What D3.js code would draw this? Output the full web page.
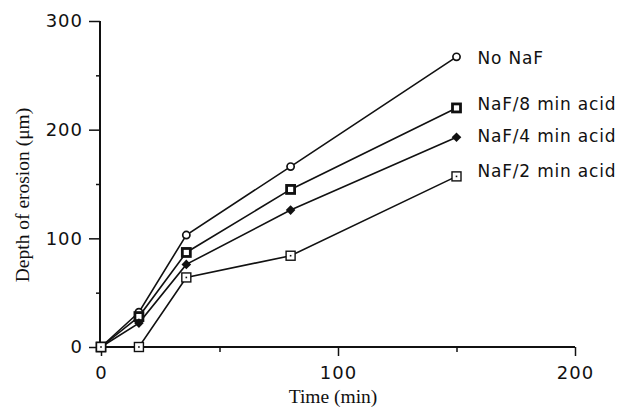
<!DOCTYPE html>
<html><head><meta charset="utf-8">
<script src="https://cdn.jsdelivr.net/npm/d3@7"></script>
<style>
body{margin:0;background:#fff;}
svg{display:block;}
.tick-label{font-family:"DejaVu Sans",sans-serif;font-size:18px;letter-spacing:1px;fill:#111;}
.legend{font-family:"DejaVu Sans",sans-serif;font-size:17px;letter-spacing:0.8px;fill:#111;}
.title{font-family:"Liberation Serif","DejaVu Serif",serif;font-size:19.5px;fill:#111;}
</style>
</head><body>
<svg id="chart" width="631" height="410"></svg>
<script>
const times = [0, 16, 36, 80, 150];
const seriesNames = ["No NaF", "NaF/8 min acid", "NaF/4 min acid", "NaF/2 min acid"];
const noNaF = [0, 32, 103, 166, 267];
const naf8 = [0, 28, 87, 145, 220];
const naf4 = [0, 22, 76, 126, 193];
const naf2 = [0, 0, 64, 84, 157];
const xTicks = [0, 100, 200];
const yTicks = [0, 100, 200, 300];
const xMinor = [50, 150];
const yMinor = [50, 150, 250];
const xTitle = "Time (min)";
const yTitle = "Depth of erosion (μm)";

const allSeries = [noNaF, naf8, naf4, naf2];
const markerTypes = ["circle", "squareBold", "diamond", "squareDot"];
const labelShift = [2, -3, 0, -4];

const svg = d3.select("#chart");
const x = d3.scaleLinear().domain([0, 200]).range([101, 575]);
const y = d3.scaleLinear().domain([0, 300]).range([347, 21]);

// axes
const gx = svg.append("g").attr("transform", `translate(0,${y(0)})`);
gx.call(d3.axisBottom(x).tickValues(xTicks).tickSize(9).tickPadding(10).tickFormat(d3.format("d")));
gx.append("g").call(d3.axisBottom(x).tickValues(xMinor).tickSize(5).tickFormat(""));
const gy = svg.append("g").attr("transform", `translate(${x(0)-1},0)`);
gy.call(d3.axisLeft(y).tickValues(yTicks).tickSize(11).tickPadding(6).tickFormat(d3.format("d")));
gy.append("g").call(d3.axisLeft(y).tickValues(yMinor).tickSize(4).tickFormat(""));
svg.selectAll(".domain").attr("stroke", "#111").attr("stroke-width", 2);
svg.selectAll(".tick line").attr("stroke", "#111").attr("stroke-width", 1.5);
svg.selectAll(".tick text").attr("class", "tick-label").attr("font-size", null).attr("font-family", null);
gy.selectAll(".domain").attr("d", `M0,${y(300)}V${y(0)}`);
gx.selectAll(".domain").attr("d", `M${x(0)},0H${x(200)}`);

// titles
svg.append("text").attr("class", "title").attr("x", 333).attr("y", 403)
  .attr("text-anchor", "middle").text(xTitle);
svg.append("text").attr("class", "title").attr("transform", `translate(29,195) rotate(-90)`)
  .attr("text-anchor", "middle").text(yTitle);

// lines
const line = d3.line().x((d, i) => x(times[i])).y(d => y(d));
allSeries.forEach(s => {
  svg.append("path").attr("d", line(s)).attr("fill", "none").attr("stroke", "#111").attr("stroke-width", 1.6);
});

// markers
allSeries.forEach((s, k) => {
  const g = svg.append("g");
  s.forEach((v, i) => {
    const cx = x(times[i]), cy = y(v);
    const t = markerTypes[k];
    if (t === "circle") {
      g.append("circle").attr("cx", cx).attr("cy", cy).attr("r", 3.6)
        .attr("fill", "#fff").attr("stroke", "#111").attr("stroke-width", 1.7);
    } else if (t === "squareBold") {
      g.append("rect").attr("x", cx - 4).attr("y", cy - 4).attr("width", 8).attr("height", 8)
        .attr("fill", "#fff").attr("stroke", "#111").attr("stroke-width", 2.8);
    } else if (t === "diamond") {
      g.append("path").attr("d", `M0,-4.8L4.8,0L0,4.8L-4.8,0Z`).attr("transform", `translate(${cx},${cy})`)
        .attr("fill", "#111");
    } else {
      g.append("rect").attr("x", cx - 4.5).attr("y", cy - 4.5).attr("width", 9).attr("height", 9)
        .attr("fill", "#fff").attr("stroke", "#111").attr("stroke-width", 1.4);
      g.append("rect").attr("x", cx - 0.8).attr("y", cy - 0.8).attr("width", 1.6).attr("height", 1.6).attr("fill", "#111");
    }
  });
});

// end labels
allSeries.forEach((s, k) => {
  svg.append("text").attr("class", "legend")
    .attr("x", x(times[times.length - 1]) + 21).attr("y", y(s[s.length - 1]) + labelShift[k])
    .attr("dy", "0.3em").text(seriesNames[k]);
});
</script>
</body></html>
